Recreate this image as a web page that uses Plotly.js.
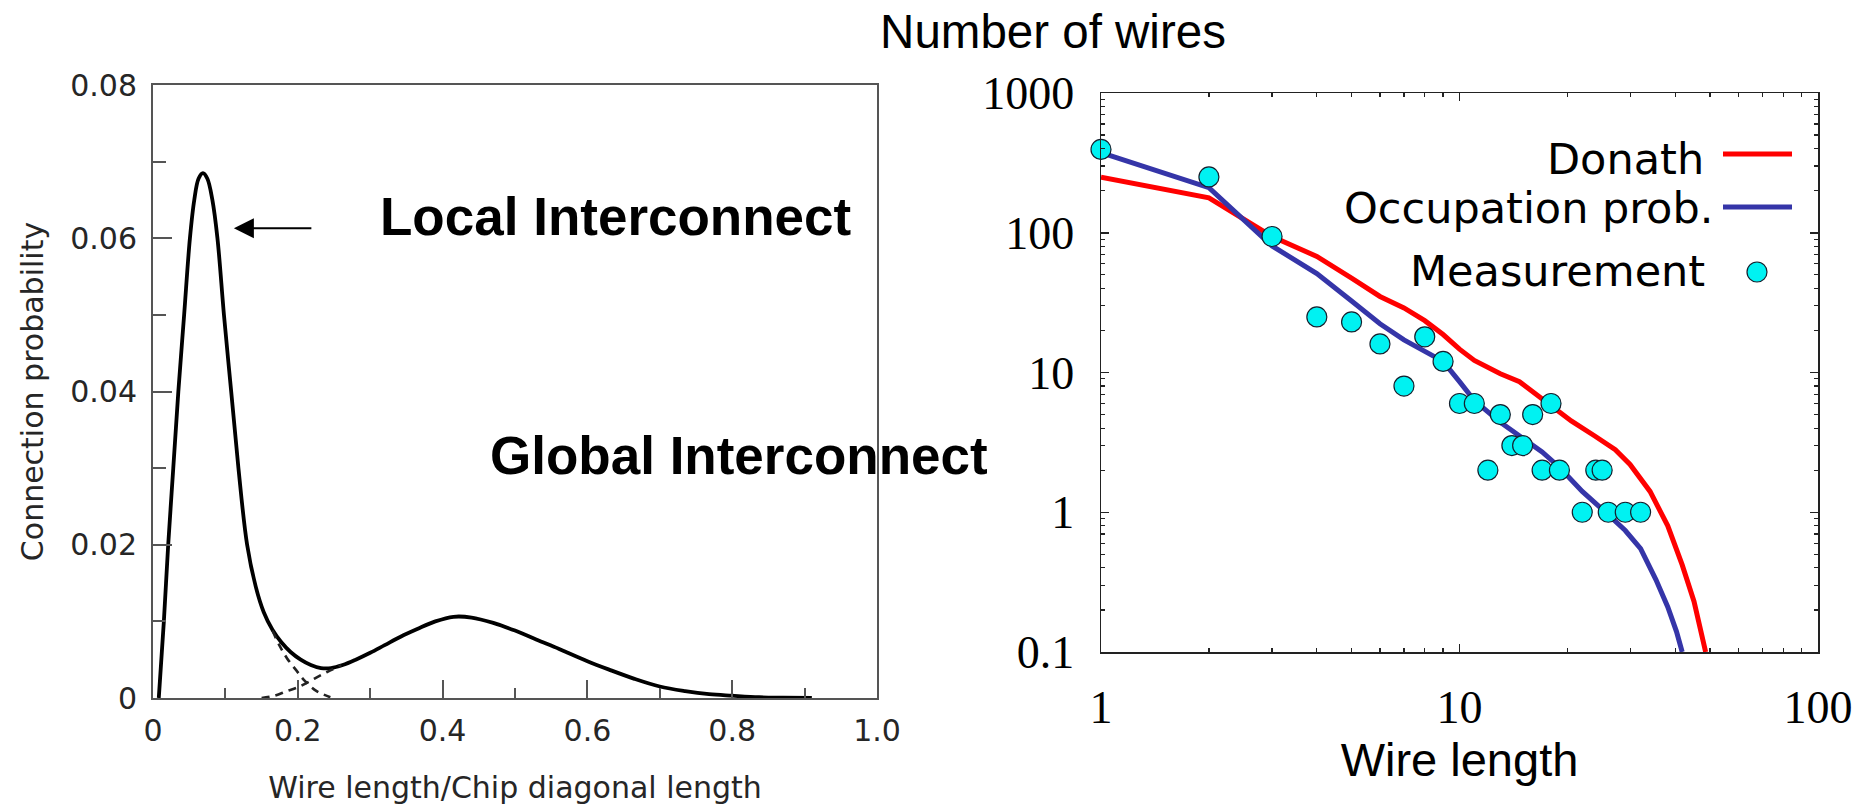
<!DOCTYPE html>
<html>
<head>
<meta charset="utf-8">
<script src="https://cdn.plot.ly/plotly-3.0.1.min.js"></script>
<style>
  html, body { margin: 0; padding: 0; background: #fff; }
  #chart { width: 1873px; height: 806px; }
</style>
</head>
<body>
<div id="chart"></div>
<script>
// ---------------- Left chart: connection probability ----------------
const connX = [0.008,0.015,0.021,0.028,0.035,0.043,0.051,0.057,0.063,0.069,0.075,0.082,0.089,0.098,0.108,0.118,0.130,0.142,0.153,0.165,0.177,0.190,0.204,0.218,0.232,0.246,0.262,0.280,0.300,0.320,0.342,0.365,0.390,0.415,0.440,0.470,0.500,0.530,0.561,0.600,0.630,0.665,0.700,0.735,0.768,0.800,0.837,0.870,0.910];
const connY = [0,0.010,0.020,0.030,0.040,0.050,0.060,0.065,0.0678,0.0685,0.0678,0.065,0.060,0.050,0.040,0.030,0.020,0.0145,0.0112,0.0089,0.0073,0.0060,0.0050,0.0043,0.0039,0.0039,0.0043,0.0050,0.0059,0.0069,0.0080,0.0090,0.0100,0.0106,0.0105,0.0098,0.0088,0.0076,0.0064,0.0048,0.0037,0.0025,0.0015,0.0009,0.0005,0.0003,0.0001,0.00004,0];
const localTailX = [0.165,0.175,0.185,0.198,0.210,0.226,0.245];
const localTailY = [0.0088,0.0068,0.0052,0.0036,0.0022,0.0009,0.0001];
const globalRiseX = [0.150,0.168,0.185,0.200,0.215,0.230,0.245,0.260];
const globalRiseY = [0,0.0003,0.0009,0.0014,0.0021,0.0029,0.0036,0.0043];

const leftXTicks = [0,0.2,0.4,0.6,0.8,1.0];
const leftXLabels = ['0','0.2','0.4','0.6','0.8','1.0'];
const leftXMinor = [0.1,0.3,0.5,0.7,0.9];
const leftYTicks = [0,0.02,0.04,0.06,0.08];
const leftYLabels = ['0','0.02','0.04','0.06','0.08'];
const leftYMinor = [0.01,0.03,0.05,0.07];

// ---------------- Right chart: number of wires ----------------
const measLength = [1,2,3,4,5,6,7,8,9,10,11,12,13,14,15,16,17,18,19,22,24,25,26,29,32];
const measCount  = [395,251,94,25,23,16,8,18,12,6,6,2,5,3,3,5,2,6,2,1,2,2,1,1,1];

const donathLength = [1,2,3,4,5,6,7,8,9,10,11,12,13,14.7,16.4,18,20.5,23.9,27.2,29.9,34,38.1,41.8,45.1,47.1,48.6];
const donathCount  = [250,178,94,67.7,47.4,35,29,23.5,18.7,14.7,12.2,10.8,9.8,8.6,6.9,5.8,4.5,3.5,2.8,2.2,1.41,0.80,0.42,0.23,0.146,0.1];

const occLength = [1,2,3,4,5,6,7,8,9,10,11,13,15,17,19,22,26,29,32,35.3,38.1,40.3,41.8];
const occCount  = [375,210,80.5,51,32.5,22.3,17.1,14.1,12.0,8.6,6.3,4.4,3.4,2.7,2.1,1.41,0.96,0.74,0.55,0.33,0.21,0.14,0.1];

const rightXTicks = [1,10,100];
const rightXLabels = ['1','10','100'];
const rightYTicks = [0.1,1,10,100,1000];
const rightYLabels = ['0.1','1','10','100','1000'];
const logDigits = [2,3,4,5,6,7,8,9];
const rightXDecades = [1,10];
const rightYDecades = [0.1,1,10,100];
const rightXMinor = [];
rightXDecades.forEach(d => logDigits.forEach(k => rightXMinor.push(d*k)));
const rightYMinor = [];
rightYDecades.forEach(d => logDigits.forEach(k => rightYMinor.push(+(d*k).toPrecision(3))));

const legendNames = ['Donath','Occupation prob.','Measurement'];
const donathColor = '#ff0000';
const occColor = '#3535a8';
const measColor = '#00f2f2';

// ---------------- layout helpers (pixel -> paper) ----------------
const W = 1873, H = 806;
const px = v => v / W;
const py = v => 1 - v / H;

const leftGray = '#555555';
const leftFont = {family: 'DejaVu Sans, Liberation Sans, sans-serif', size: 30, color: '#262626'};

const traces = [
  {x: connX, y: connY, xaxis: 'x', yaxis: 'y', mode: 'lines', type: 'scatter',
   line: {color: '#000', width: 3.8, shape: 'spline', smoothing: 1.0}, showlegend: false, hoverinfo: 'skip'},
  {x: localTailX, y: localTailY, xaxis: 'x', yaxis: 'y', mode: 'lines', type: 'scatter',
   line: {color: '#222', width: 2.6, dash: '8px,6px', shape: 'spline'}, showlegend: false, hoverinfo: 'skip'},
  {x: globalRiseX, y: globalRiseY, xaxis: 'x', yaxis: 'y', mode: 'lines', type: 'scatter',
   line: {color: '#222', width: 2.6, dash: '8px,6px', shape: 'spline'}, showlegend: false, hoverinfo: 'skip'},
  {x: donathLength, y: donathCount, xaxis: 'x2', yaxis: 'y2', mode: 'lines', type: 'scatter', name: legendNames[0],
   line: {color: donathColor, width: 5}, showlegend: false, hoverinfo: 'skip'},
  {x: occLength, y: occCount, xaxis: 'x2', yaxis: 'y2', mode: 'lines', type: 'scatter', name: legendNames[1],
   line: {color: occColor, width: 5}, showlegend: false, hoverinfo: 'skip'},
  {x: measLength, y: measCount, xaxis: 'x2', yaxis: 'y2', mode: 'markers', type: 'scatter', name: legendNames[2],
   marker: {color: measColor, size: 20, line: {color: '#14202e', width: 1.2}}, cliponaxis: false,
   showlegend: false, hoverinfo: 'skip'}
];

const layout = {
  width: W, height: H,
  margin: {l: 0, r: 0, t: 0, b: 0, pad: 0},
  paper_bgcolor: '#fff', plot_bgcolor: 'rgba(0,0,0,0)',
  showlegend: false,
  title: {text: 'Number of wires', font: {family: 'Liberation Sans, Arial, sans-serif', size: 47.5, color: '#000'},
          x: px(1053), xanchor: 'center', xref: 'paper', y: py(31), yanchor: 'middle', yref: 'paper'},
  xaxis: {
    domain: [px(153), px(877)], anchor: 'y', range: [0, 1],
    tickmode: 'array', tickvals: leftXTicks, ticktext: leftXLabels,
    ticks: 'inside', ticklen: 18, tickwidth: 2, tickcolor: leftGray,
    minor: {tickmode: 'array', tickvals: leftXMinor, ticks: 'inside', ticklen: 10, tickwidth: 2, tickcolor: leftGray, showgrid: false},
    showline: true, linecolor: leftGray, linewidth: 2, mirror: true,
    showgrid: false, zeroline: false, tickfont: leftFont, ticklabelstandoff: 5,
    title: {text: 'Wire length/Chip diagonal length', font: leftFont, standoff: 30}
  },
  yaxis: {
    domain: [py(698), py(85)], anchor: 'x', range: [0, 0.08],
    tickmode: 'array', tickvals: leftYTicks, ticktext: leftYLabels,
    ticks: 'inside', ticklen: 19, tickwidth: 2, tickcolor: leftGray,
    minor: {tickmode: 'array', tickvals: leftYMinor, ticks: 'inside', ticklen: 13, tickwidth: 2, tickcolor: leftGray, showgrid: false},
    showline: true, linecolor: leftGray, linewidth: 2, mirror: true,
    showgrid: false, zeroline: false, tickfont: leftFont, ticklabelstandoff: 8,
    title: {text: 'Connection probability', font: leftFont, standoff: 18}
  },
  xaxis2: {
    type: 'log', domain: [px(1101), px(1818)], anchor: 'y2', range: [0, 2],
    tickmode: 'array', tickvals: rightXTicks, ticktext: rightXLabels,
    ticks: 'inside', ticklen: 8, tickwidth: 1.5, tickcolor: '#222',
    minor: {tickmode: 'array', tickvals: rightXMinor, ticks: 'inside', ticklen: 4, tickwidth: 1.2, tickcolor: '#222', showgrid: false},
    showline: true, linecolor: '#222', linewidth: 1.5, mirror: 'ticks',
    showgrid: false, zeroline: false,
    tickfont: {family: 'Liberation Serif, Times New Roman, serif', size: 46, color: '#000'}, ticklabelstandoff: 14,
    title: {text: 'Wire length', font: {family: 'Liberation Sans, Arial, sans-serif', size: 47, color: '#000'}, standoff: 3}
  },
  yaxis2: {
    type: 'log', domain: [py(652), py(93)], anchor: 'x2', range: [-1, 3],
    tickmode: 'array', tickvals: rightYTicks, ticktext: rightYLabels,
    ticks: 'inside', ticklen: 8, tickwidth: 1.5, tickcolor: '#222',
    minor: {tickmode: 'array', tickvals: rightYMinor, ticks: 'inside', ticklen: 4, tickwidth: 1.2, tickcolor: '#222', showgrid: false},
    showline: true, linecolor: '#222', linewidth: 1.5, mirror: 'ticks',
    showgrid: false, zeroline: false,
    tickfont: {family: 'Liberation Serif, Times New Roman, serif', size: 46, color: '#000'}, ticklabelstandoff: 16
  },
  annotations: [
    {text: '<b>Local Interconnect</b>', xref: 'paper', yref: 'paper', x: px(378), y: py(216.7), xanchor: 'left', yanchor: 'middle',
     showarrow: false, font: {family: 'Liberation Sans, Arial, sans-serif', size: 53, color: '#000'}},
    {text: '<b>Global Interconnect</b>', xref: 'paper', yref: 'paper', x: px(488), y: py(455.7), xanchor: 'left', yanchor: 'middle',
     showarrow: false, font: {family: 'Liberation Sans, Arial, sans-serif', size: 53, color: '#000'}},
    {text: '', xref: 'x', yref: 'y', x: 0.1117, y: 0.0613, showarrow: true, ax: 79, ay: 0,
     arrowhead: 2, arrowwidth: 2, arrowsize: 2, arrowcolor: '#000'},
    {text: legendNames[0], xref: 'paper', yref: 'paper', x: px(1706), y: py(159), xanchor: 'right', yanchor: 'middle',
     showarrow: false, font: {family: 'DejaVu Sans, sans-serif', size: 43, color: '#000'}},
    {text: legendNames[1], xref: 'paper', yref: 'paper', x: px(1715), y: py(208), xanchor: 'right', yanchor: 'middle',
     showarrow: false, font: {family: 'DejaVu Sans, sans-serif', size: 43, color: '#000'}},
    {text: legendNames[2], xref: 'paper', yref: 'paper', x: px(1707), y: py(271), xanchor: 'right', yanchor: 'middle',
     showarrow: false, font: {family: 'DejaVu Sans, sans-serif', size: 43, color: '#000'}}
  ],
  shapes: [
    {type: 'line', xref: 'paper', yref: 'paper', x0: px(1723), x1: px(1792), y0: py(154), y1: py(154),
     line: {color: donathColor, width: 5}},
    {type: 'line', xref: 'paper', yref: 'paper', x0: px(1723), x1: px(1792), y0: py(207), y1: py(207),
     line: {color: occColor, width: 5}},
    {type: 'circle', xref: 'paper', yref: 'paper', x0: px(1747), x1: px(1767), y0: py(282), y1: py(262),
     fillcolor: measColor, line: {color: '#14202e', width: 1.2}}
  ]
};

Plotly.newPlot('chart', traces, layout, {staticPlot: true, displayModeBar: false});
</script>
</body>
</html>
